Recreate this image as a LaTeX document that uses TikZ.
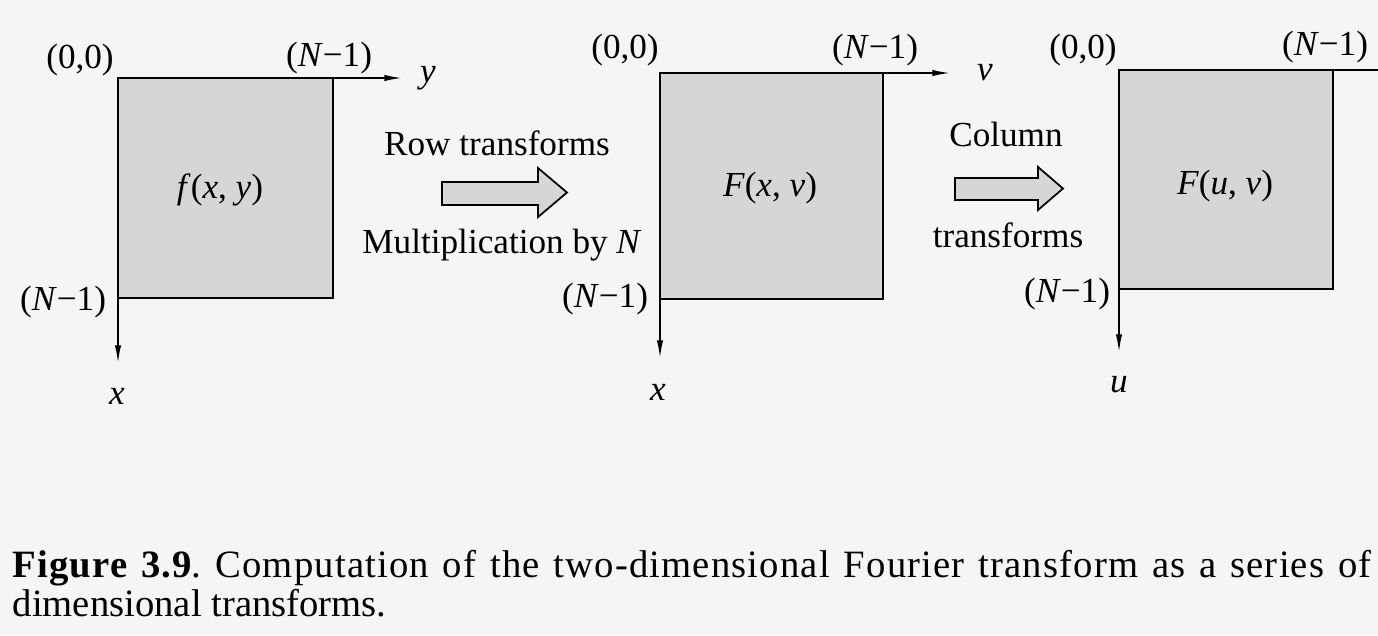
\documentclass[tikz,border=0pt]{standalone}
\usepackage{fontspec}
\setmainfont{Liberation Serif}
\usetikzlibrary{arrows.meta}

\tikzset{
  grid/.style={draw, line width=0.6pt, fill=black!16},
  axis/.style={line width=0.45pt, -{Latex[length=5pt,width=1.8pt]}},
  bigarrow/.style={draw, line width=0.5pt, fill=black!16, line join=miter},
  capline/.style={anchor=base west, inner sep=0pt, font=\fontsize{11}{11}\selectfont\frenchspacing}
}

\begin{document}
\begin{tikzpicture}[x=0.01cm, y=-0.01cm, font=\fontsize{10}{12}\selectfont]
  \fill[black!4] (0,0) rectangle (1378,635);
  \useasboundingbox (0,0) rectangle (1378,635);

  % f(x,y)
  \draw[grid] (118,78) rectangle (333,298);
  \coordinate (f ne) at (333,78);
  \coordinate (f sw) at (118,298);
  \coordinate (f y) at (402,78);
  \coordinate (f x) at (118,363);
  \draw[axis] (f ne) -- (f y);
  \draw[axis] (f sw) -- (f x);
  \node (f00) at (80,60) {(0,0)};
  \node (f top) at (329,58) {(\textit{N}−1)};
  \node (f left) at (63,302) {(\textit{N}−1)};
  \node (f ylbl) at (428,78) {\textit{y}};
  \node (f xlbl) at (117,396) {\textit{x}};
  \node (f mid) at (220,190) {\textit{f}(\textit{x}, \textit{y})};

  % row transforms
  \draw[bigarrow] (442,182) -- (538,182) -- (538,168) -- (567,192.5)
    -- (538,217) -- (538,205) -- (442,205) -- cycle;
  \node (row) at (497,143) {Row transforms};
  \node (mult) at (502,245) {Multiplication by \textit{N}};

  % F(x,v)
  \draw[grid] (660,73) rectangle (883,299);
  \coordinate (g ne) at (883,73);
  \coordinate (g sw) at (660,299);
  \coordinate (g v) at (950,73);
  \coordinate (g x) at (660,358);
  \draw[axis] (g ne) -- (g v);
  \draw[axis] (g sw) -- (g x);
  \node (g00) at (625,50) {(0,0)};
  \node (g top) at (875,50) {(\textit{N}−1)};
  \node (g left) at (605,299) {(\textit{N}−1)};
  \node (g vlbl) at (985,73) {\textit{v}};
  \node (g xlbl) at (658,392) {\textit{x}};
  \node (g mid) at (770,188) {\textit{F}(\textit{x}, \textit{v})};

  % column transforms
  \draw[bigarrow] (955,178) -- (1038,178) -- (1038,167) -- (1063,188.5)
    -- (1038,210) -- (1038,200) -- (955,200) -- cycle;
  \node (col) at (1006,134) {Column};
  \node (trans) at (1008,235) {transforms};

  % F(u,v)
  \draw[grid] (1119,70) rectangle (1333,289);
  \coordinate (h ne) at (1333,70);
  \coordinate (h sw) at (1119,289);
  \coordinate (h v) at (1396,70);
  \coordinate (h u) at (1119,352);
  \draw[axis] (h ne) -- (h v);
  \draw[axis] (h sw) -- (h u);
  \node (h00) at (1083,50) {(0,0)};
  \node (h top) at (1325,47) {(\textit{N}−1)};
  \node (h left) at (1067,294) {(\textit{N}−1)};
  \node (h ulbl) at (1119,385) {\textit{u}};
  \node (h mid) at (1225,186) {\textit{F}(\textit{u}, \textit{v})};

  % caption
  \node[capline] (cap1) at (12,577) {\addfontfeatures{LetterSpace=3}\makebox[13.58cm][s]{\textbf{Figure 3.9}. Computation of the two-dimensional Fourier transform as a series of}};
  \node[capline] (cap2) at (12,616) {dimensional transforms.};
\end{tikzpicture}
\end{document}
